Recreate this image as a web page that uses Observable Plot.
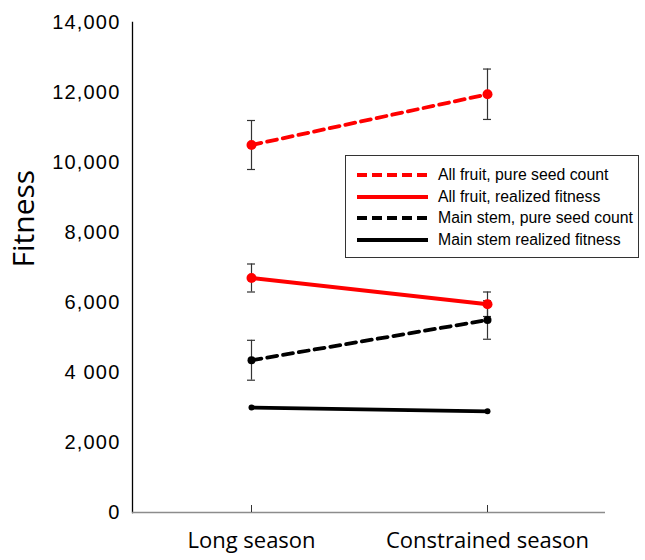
<!DOCTYPE html>
<html>
<head>
<meta charset="utf-8">
<script src="https://cdn.jsdelivr.net/npm/d3@7"></script>
<script src="https://cdn.jsdelivr.net/npm/@observablehq/plot@0.6"></script>
<style>
  html, body { margin: 0; padding: 0; background: #fff; }
  #wrap { position: relative; width: 645px; height: 560px; }
  #wrap svg g[aria-label="y-axis tick label"] text { letter-spacing: 1.2px; }
  #legend { position: absolute; left: 345px; top: 155px; width: 292px; height: 101px;
    border: 1px solid #333; background: #fff; font-family: "Liberation Sans", Arial, sans-serif; font-size: 15.8px; color: #000; }
  .row { position: absolute; left: 0; height: 20px; display: flex; align-items: center; white-space: nowrap; }
  .row svg { margin-left: 11px; margin-right: 10px; }
</style>
</head>
<body>
<div id="wrap"></div>
<script>
const seasons = ["Long season", "Constrained season"];
const seriesNames = ["All fruit, pure seed count", "All fruit, realized fitness", "Main stem, pure seed count", "Main stem realized fitness"];
const seriesColors = ["#ff0000", "#ff0000", "#000000", "#000000"];
const seriesDashed = [true, false, true, false];
const seriesDotR = [5, 5, 4, 3];
const allFruitSeed = [10500, 11950];
const allFruitSeedErr = [700, 720];
const allFruitRealized = [6700, 5950];
const allFruitRealizedErr = [400, 350];
const mainStemSeed = [4350, 5500];
const mainStemSeedErr = [570, 550];
const mainStemRealized = [3000, 2890];
const mainStemRealizedErr = [0, 0];
const yTicks = [0, 2000, 4000, 6000, 8000, 10000, 12000, 14000];
const yTickLabels = ["0", "2,000", "4 000", "6,000", "8,000", "10,000", "12,000", "14,000"];

const values = [allFruitSeed, allFruitRealized, mainStemSeed, mainStemRealized];
const errs = [allFruitSeedErr, allFruitRealizedErr, mainStemSeedErr, mainStemRealizedErr];
const rows = [];
values.forEach((vals, s) => vals.forEach((v, i) => rows.push({
  series: seriesNames[s], s, season: seasons[i], value: v, lo: v - errs[s][i], hi: v + errs[s][i]
})));
const errRows = rows.filter(d => d.hi > d.lo);

const marks = [];
marks.push(Plot.axisY({ticks: yTicks, tickFormat: (d) => yTickLabels[yTicks.indexOf(d)], tickSize: 0, tickPadding: 12,
  fontSize: 20, fontFamily: "Liberation Sans, Arial, sans-serif", label: null, color: "#000"}));
marks.push(Plot.frame({anchor: "left", stroke: "#000", strokeWidth: 1.3}));
marks.push(Plot.ruleY([0], {stroke: "#8c8c8c", strokeWidth: 1.5}));
marks.push(Plot.axisX({tickSize: 0, tickPadding: 20, fontSize: 22, fontFamily: "Open Sans, sans-serif", label: null, color: "#000"}));
marks.push(Plot.axisX({tickSize: -7, text: null, label: null, stroke: "#333"}));
marks.push(Plot.text(["Fitness"], {frameAnchor: "left", rotate: -90, dx: -108, fontSize: 30, fontFamily: "Open Sans, sans-serif", fill: "#000"}));
// error bars
marks.push(Plot.ruleX(errRows, {x: "season", y1: "lo", y2: "hi", stroke: "#333", strokeWidth: 1.2}));
marks.push(Plot.ruleY(errRows, {x1: "season", x2: "season", y: "lo", insetLeft: -4, insetRight: -4, stroke: "#333", strokeWidth: 1.2}));
marks.push(Plot.ruleY(errRows, {x1: "season", x2: "season", y: "hi", insetLeft: -4, insetRight: -4, stroke: "#333", strokeWidth: 1.2}));
// lines and dots
seriesNames.forEach((name, s) => {
  const data = rows.filter(d => d.s === s);
  marks.push(Plot.line(data, {x: "season", y: "value", stroke: seriesColors[s], strokeWidth: 3.8,
    strokeDasharray: seriesDashed[s] ? "10,6" : null}));
  marks.push(Plot.dot(data, {x: "season", y: "value", fill: seriesColors[s], r: seriesDotR[s], stroke: null}));
});

const chart = Plot.plot({
  width: 645, height: 560,
  marginLeft: 132, marginRight: 40, marginTop: 22, marginBottom: 48,
  x: {type: "point", domain: seasons, padding: 0.5},
  y: {domain: [0, 14000]},
  style: {background: "#fff"},
  marks
});
const wrap = document.getElementById("wrap");
wrap.appendChild(chart);

// legend
const legend = document.createElement("div");
legend.id = "legend";
seriesNames.forEach((name, s) => {
  const row = document.createElement("div");
  row.className = "row";
  row.style.top = (9 + s * 21.7) + "px";
  const dash = seriesDashed[s] ? 'stroke-dasharray="10,5"' : "";
  row.innerHTML = `<svg width="71" height="8"><line x1="0" y1="4" x2="71" y2="4" stroke="${seriesColors[s]}" stroke-width="4" ${dash}/></svg><span>${name}</span>`;
  legend.appendChild(row);
});
wrap.appendChild(legend);
</script>
</body>
</html>
